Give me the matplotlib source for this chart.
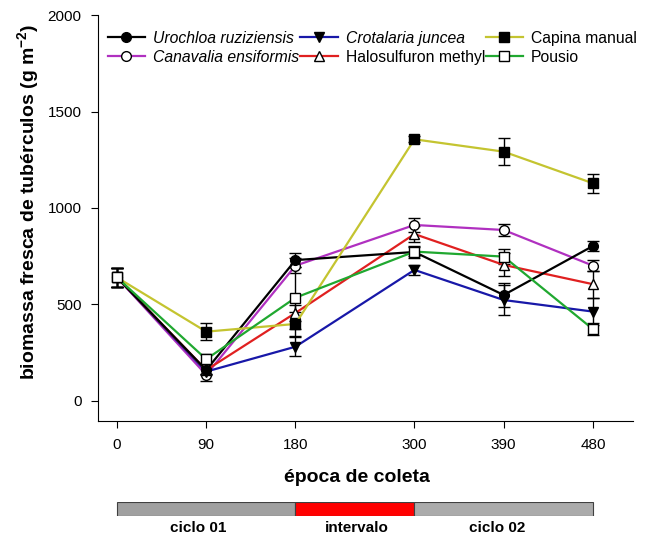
import numpy as np
import matplotlib
matplotlib.use("Agg")
import matplotlib.pyplot as plt

plt.rcParams['font.family'] = ['Liberation Sans', 'DejaVu Sans']
plt.rcParams['mathtext.fontset'] = 'custom'
plt.rcParams['mathtext.rm'] = 'Liberation Sans'
plt.rcParams['mathtext.bf'] = 'Liberation Sans:bold'

# época de coleta (dias)
days = [0, 90, 180, 300, 390, 480]

names = ['Urochloa ruziziensis', 'Canavalia ensiformis', 'Crotalaria juncea',
         'Halosulfuron methyl', 'Capina manual', 'Pousio']
italic = [True, True, True, False, False, False]

urochloa = [640, 160, 730, 772, 549, 803]
urochloa_err = [50, 20, 35, 30, 60, 25]
canavalia = [640, 135, 701, 912, 886, 701]
canavalia_err = [50, 30, 40, 35, 30, 30]
crotalaria = [640, 152, 281, 679, 523, 463]
crotalaria_err = [50, 20, 50, 25, 80, 70]
halosulfuron = [640, 160, 456, 865, 705, 605]
halosulfuron_err = [50, 20, 40, 40, 60, 70]
capina = [640, 359, 399, 1356, 1292, 1128]
capina_err = [50, 45, 60, 15, 70, 50]
pousio = [640, 216, 535, 774, 748, 372]
pousio_err = [50, 25, 160, 25, 40, 30]

series = [urochloa, canavalia, crotalaria, halosulfuron, capina, pousio]
errors = [urochloa_err, canavalia_err, crotalaria_err, halosulfuron_err, capina_err, pousio_err]
colors = ['black', '#B030C0', '#1818A8', '#E02020', '#C4C430', '#20A830']
markers = ['o', 'o', 'v', '^', 's', 's']
faces = ['black', 'white', 'black', 'white', 'black', 'white']

# faixas de período
periods = ['ciclo 01', 'intervalo', 'ciclo 02']
period_start = [0, 180, 300]
period_len = [180, 120, 180]
period_colors = ['#A0A0A0', '#FF0000', '#ABABAB']

fig = plt.figure(figsize=(6.5, 5.38), dpi=100)
ax = fig.add_axes([0.151, 0.2175, 0.823, 0.7545])

draw_order = [1, 2, 3, 0, 4, 5]
handles = {}
for i in draw_order:
    ax.errorbar(days, series[i], yerr=errors[i], fmt='none', ecolor='black',
                elinewidth=1, capsize=4.5, capthick=1, zorder=2)
    h, = ax.plot(days, series[i], color=colors[i], lw=1.6, marker=markers[i],
                 ms=7, mfc=faces[i], mec='black', mew=1, zorder=3)
    handles[i] = h

ax.set_xlim(-19, 520.5)
ax.set_ylim(-104, 2000)
ax.set_xticks(days)
ax.set_yticks([0, 500, 1000, 1500, 2000])
ax.spines['top'].set_visible(False)
ax.spines['right'].set_visible(False)
ax.tick_params(direction='out', length=5, labelsize=11, pad=7)
ax.set_ylabel('biomassa fresca de tubérculos (g m$^{\\mathbf{-2}}$)', fontsize=14,
              fontweight='bold')
ax.yaxis.set_label_coords(-0.105, 0.539)

leg = ax.legend([handles[i] for i in range(6)], names, ncol=3, frameon=False,
                loc='upper left', bbox_to_anchor=(0.0, 0.985), fontsize=11.3,
                handlelength=2.4, handletextpad=0.5, columnspacing=0.05,
                labelspacing=0.27, borderaxespad=0.2)
for t, it in zip(leg.get_texts(), italic):
    if it:
        t.set_style('italic')

fig.text(357 / 650, 1 - 478 / 538, 'época de coleta', ha='center', va='center',
         fontsize=14, fontweight='bold')

bx = fig.add_axes([0.151, 1 - 516 / 538, 0.823, 14.5 / 538])
bx.barh([0, 0, 0], period_len, left=period_start, height=1, color=period_colors,
        edgecolor='#404040', linewidth=0.8)
bx.set_xlim(ax.get_xlim())
bx.set_ylim(-0.5, 0.5)
bx.axis('off')
label_x = [82, 242, 383]
for lx, p in zip(label_x, periods):
    bx.text(lx, -1.3, p, ha='center', va='center', fontsize=11, fontweight='bold')

fig.savefig('out.png', dpi=100)
